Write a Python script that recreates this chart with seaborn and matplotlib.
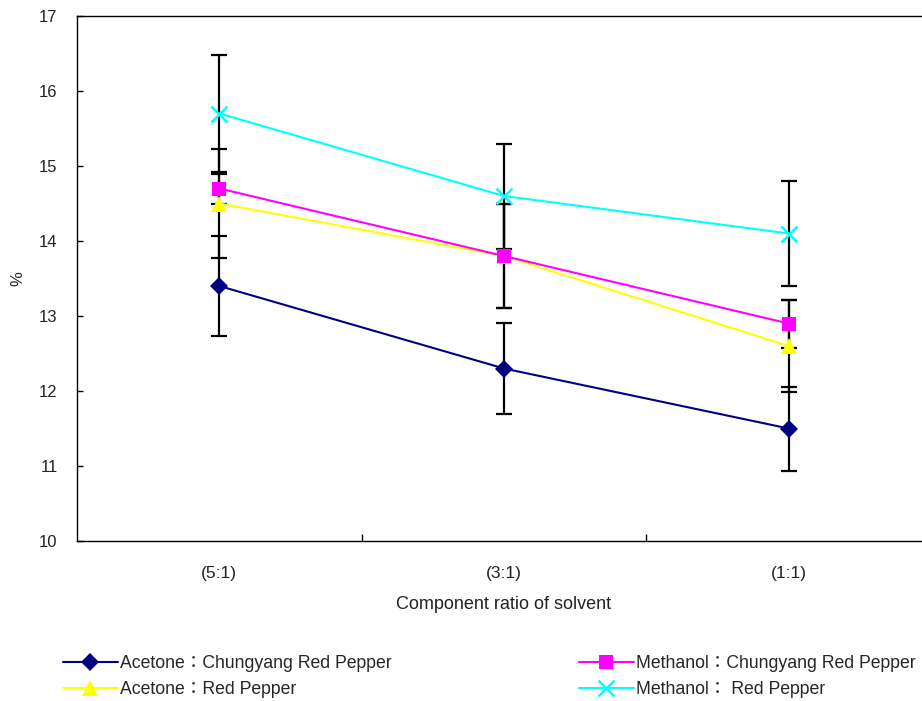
import matplotlib
matplotlib.use("Agg")
import matplotlib.pyplot as plt
import seaborn as sns
import pandas as pd

# Solvent component ratios (x categories)
ratios = ["(5:1)", "(3:1)", "(1:1)"]

series_names = [
    "Acetone：Chungyang Red Pepper",
    "Acetone：Red Pepper",
    "Methanol：Chungyang Red Pepper",
    "Methanol： Red Pepper",
]

acetone_chungyang = [13.4, 12.3, 11.5]
acetone_red = [14.5, 13.8, 12.6]
methanol_chungyang = [14.7, 13.8, 12.9]
methanol_red = [15.7, 14.6, 14.1]

acetone_chungyang_err = [0.67, 0.61, 0.56]
acetone_red_err = [0.73, 0.70, 0.61]
methanol_chungyang_err = [0.20, 0.70, 0.32]
methanol_red_err = [0.78, 0.70, 0.70]

values = [acetone_chungyang, acetone_red, methanol_chungyang, methanol_red]
errors = [acetone_chungyang_err, acetone_red_err, methanol_chungyang_err, methanol_red_err]
colors = ["#000080", "#FFFF00", "#FF00FF", "#00FFFF"]
markers = ["D", "^", "s", "x"]
marker_sizes = [9.5, 12, 10.5, 11]

rows = []
for name, vals, errs in zip(series_names, values, errors):
    for i, (v, e) in enumerate(zip(vals, errs)):
        rows.append({"series": name, "pos": i, "ratio": ratios[i], "value": v, "err": e})
df = pd.DataFrame(rows)

sns.set_theme(style="white")
plt.rcParams["font.family"] = ["Liberation Sans", "Noto Sans CJK KR", "DejaVu Sans"]
text_color = "#222222"

fig = plt.figure(figsize=(9.22, 7.01), dpi=100)
ax = fig.add_axes([77 / 922, 1 - 541 / 701, 854 / 922, 525 / 701])

# Error bars first, so markers sit on top
for name in series_names:
    sub = df[df["series"] == name]
    ax.errorbar(sub["pos"], sub["value"], yerr=sub["err"], fmt="none",
                ecolor="black", elinewidth=1.6, capsize=5.5, capthick=1.6, zorder=2)

for name, color, mk, ms in zip(series_names, colors, markers, marker_sizes):
    sub = df[df["series"] == name]
    sns.lineplot(data=sub, x="pos", y="value", ax=ax, color=color, lw=1.5,
                 marker=mk, markersize=ms, markeredgecolor=color,
                 markeredgewidth=1.8 if mk == "x" else 0, label=name, zorder=3)

ax.set_xlim(-0.5, 2.5)
ax.set_ylim(10, 17)
ax.set_yticks(range(10, 18))
ax.set_xticks([0, 1, 2])
ax.set_xticklabels(ratios)
ax.set_xticks([0.5, 1.5], minor=True)
ax.tick_params(axis="x", which="major", length=0, pad=18, labelsize=12.5, colors=text_color)
ax.tick_params(axis="x", which="minor", direction="in", length=5, width=1, color="black", bottom=True)
ax.tick_params(axis="y", direction="in", length=4, width=1, color="black", left=True,
               labelsize=12, colors=text_color, pad=14)

for side in ["left", "bottom", "top", "right"]:
    ax.spines[side].set_color("black")
    ax.spines[side].set_linewidth(1)
ax.grid(False)

ax.set_xlabel("Component ratio of solvent", fontsize=13, labelpad=11, color=text_color)
ax.set_ylabel("%", fontsize=12, labelpad=10, color=text_color)

handles, labels = ax.get_legend_handles_labels()
ax.get_legend().remove()
fig.legend(handles, labels, ncol=2, loc="lower left", bbox_to_anchor=(0.051, -0.019),
           frameon=False, fontsize=12.7, handlelength=3.1, handletextpad=0.15,
           columnspacing=10.6, labelspacing=0.55)

fig.savefig("out.png", dpi=100, facecolor="white")
